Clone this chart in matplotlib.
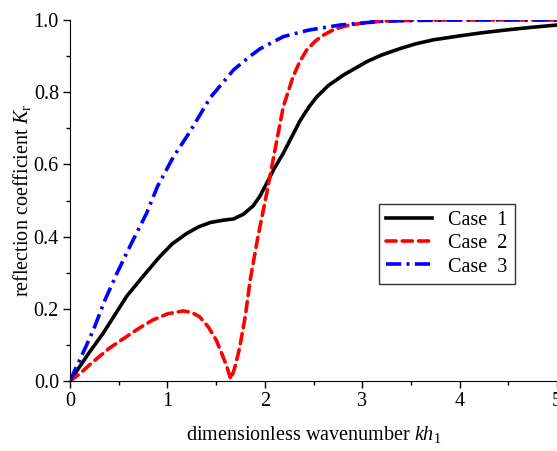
import numpy as np
import matplotlib
matplotlib.use('Agg')
import matplotlib.pyplot as plt

# values
case1_x = [0, 0.1, 0.2, 0.34, 0.5, 0.58, 0.75, 0.92, 1.05, 1.2, 1.32, 1.44, 1.56, 1.68,
           1.78, 1.88, 1.95, 2.02, 2.1, 2.19, 2.28, 2.36, 2.45, 2.53, 2.65, 2.81, 3.05,
           3.2, 3.39, 3.55, 3.73, 4.0, 4.24, 4.5, 4.75, 5.0]
case1_y = [0, 0.04, 0.08, 0.132, 0.2, 0.234, 0.29, 0.344, 0.38, 0.409, 0.427, 0.439,
           0.445, 0.449, 0.462, 0.485, 0.512, 0.548, 0.59, 0.631, 0.678, 0.72, 0.758,
           0.786, 0.818, 0.848, 0.885, 0.903, 0.921, 0.934, 0.945, 0.956, 0.965, 0.973,
           0.98, 0.986]

case2_x = [0, 0.1, 0.24, 0.4, 0.58, 0.72, 0.85, 1.0, 1.16, 1.25, 1.33, 1.42, 1.5, 1.56,
           1.61, 1.65, 1.69, 1.74, 1.8, 1.85, 1.93, 2.02, 2.09, 2.19, 2.29, 2.36, 2.43,
           2.52, 2.6, 2.72, 2.87, 3.05, 3.22, 3.5, 4.0, 4.5, 5.0]
case2_y = [0, 0.02, 0.054, 0.09, 0.123, 0.148, 0.169, 0.186, 0.194, 0.19, 0.178, 0.15,
           0.114, 0.075, 0.04, 0.005, 0.035, 0.09, 0.18, 0.28, 0.40, 0.52, 0.62, 0.76,
           0.843, 0.885, 0.917, 0.942, 0.958, 0.975, 0.986, 0.993, 0.997, 0.999, 1.0,
           1.0, 1.0]

case3_x = [0, 0.05, 0.1, 0.24, 0.36, 0.49, 0.63, 0.785, 0.9, 1.06, 1.23, 1.44, 1.68,
           1.85, 1.95, 2.19, 2.45, 2.77, 3.22, 3.6, 4.0, 4.5, 5.0]
case3_y = [0, 0.03, 0.058, 0.141, 0.225, 0.303, 0.381, 0.464, 0.54, 0.62, 0.69, 0.785,
           0.862, 0.9, 0.92, 0.954, 0.972, 0.986, 0.997, 0.999, 1.0, 1.0, 1.0]

labels = ['Case  1', 'Case  2', 'Case  3']

plt.rcParams['font.family'] = 'Liberation Serif'
plt.rcParams['mathtext.fontset'] = 'custom'
plt.rcParams['mathtext.rm'] = 'Liberation Serif'
plt.rcParams['mathtext.it'] = 'Liberation Serif:italic'

fig = plt.figure(figsize=(5.57, 4.51), dpi=100)
ax = fig.add_axes([70 / 557, 70 / 451, 487 / 557, 361 / 451])

ax.plot(case1_x, case1_y, color='black', lw=2.6, label=labels[0])
ax.plot(case2_x, case2_y, color='red', lw=2.6, ls=(0, (2.8, 1.7)),
        dash_capstyle='round', label=labels[1])
ax.plot(case3_x, case3_y, color='blue', lw=2.6, ls=(0, (4.2, 1.5, 0.8, 1.5)),
        label=labels[2])

ax.set_xlim(0, 5)
ax.set_ylim(0, 1)
ax.set_xticks([0, 1, 2, 3, 4, 5])
ax.set_xticks(np.arange(0.5, 5, 1), minor=True)
ax.set_yticks([0, 0.2, 0.4, 0.6, 0.8, 1.0])
ax.set_yticks(np.arange(0.1, 1, 0.2), minor=True)
ax.set_yticklabels(['0.0', '0.2', '0.4', '0.6', '0.8', '1.0'])
ax.tick_params(which='major', direction='out', length=5, width=1, labelsize=14.5, pad=3)
ax.tick_params(which='minor', direction='out', length=3, width=1)
ax.spines['top'].set_visible(False)
ax.spines['right'].set_visible(False)

ax.set_xlabel('dimensionless wavenumber $kh_1$', fontsize=14.5, labelpad=9)
ax.set_ylabel('reflection coefficient $K_\\mathrm{r}$', fontsize=14.5, labelpad=0.5)

leg = ax.legend(loc='upper left', bbox_to_anchor=(0.634, 0.49), fontsize=14.5,
                frameon=True, fancybox=False, edgecolor='black', handlelength=2.3,
                borderaxespad=0, labelspacing=0.2, borderpad=0.35)
leg.get_frame().set_linewidth(1.0)

fig.savefig('out.png', dpi=100)
